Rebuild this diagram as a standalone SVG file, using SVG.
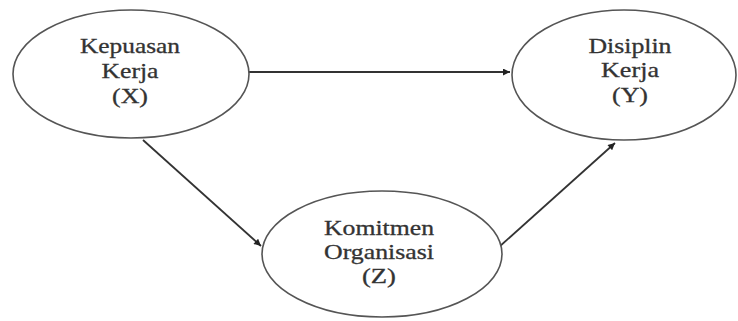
<svg xmlns="http://www.w3.org/2000/svg" width="738" height="321" viewBox="0 0 738 321">
<style>
.node ellipse{fill:#fff;stroke:#555;stroke-width:1.6}
.node text{font-family:"Liberation Serif","Times New Roman",serif;font-size:21px;fill:#333;stroke:#333;stroke-width:0.3;text-anchor:middle}
.edges line{stroke:#333;stroke-width:1.8;marker-end:url(#ah)}
</style>
<defs>
<marker id="ah" viewBox="0 0 10 10" refX="10" refY="5" markerWidth="8" markerHeight="7" markerUnits="userSpaceOnUse" orient="auto">
<path d="M0,0 L10,5 L0,10 z" fill="#222"/>
</marker>
</defs>
<rect width="738" height="321" fill="#fff"/>
<g class="edges">
<line x1="249" y1="72" x2="510" y2="72"/>
<line x1="143" y1="140" x2="261" y2="246"/>
<line x1="499" y1="247" x2="615" y2="143"/>
</g>
<g id="X" class="node">
<ellipse cx="131" cy="74" rx="118" ry="64"/>
<text x="130" y="53" textLength="100" lengthAdjust="spacingAndGlyphs">Kepuasan</text>
<text x="130" y="78" textLength="57" lengthAdjust="spacingAndGlyphs">Kerja</text>
<text x="130" y="103" textLength="36" lengthAdjust="spacingAndGlyphs">(X)</text>
</g>
<g id="Y" class="node">
<ellipse cx="624" cy="75" rx="112" ry="65"/>
<text x="630" y="53" textLength="83" lengthAdjust="spacingAndGlyphs">Disiplin</text>
<text x="630" y="77" textLength="58" lengthAdjust="spacingAndGlyphs">Kerja</text>
<text x="630" y="102" textLength="36" lengthAdjust="spacingAndGlyphs">(Y)</text>
</g>
<g id="Z" class="node">
<ellipse cx="382" cy="254" rx="120" ry="63"/>
<text x="379" y="235" textLength="110" lengthAdjust="spacingAndGlyphs">Komitmen</text>
<text x="379" y="259" textLength="110" lengthAdjust="spacingAndGlyphs">Organisasi</text>
<text x="379" y="283" textLength="34" lengthAdjust="spacingAndGlyphs">(Z)</text>
</g>
</svg>
